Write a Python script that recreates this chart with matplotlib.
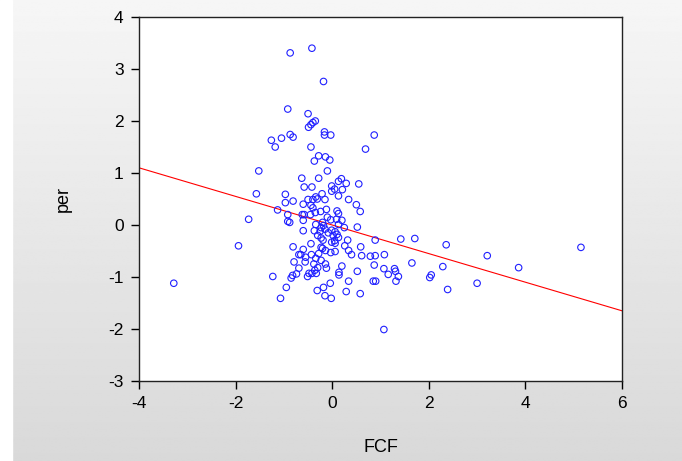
import numpy as np
import matplotlib.pyplot as plt

plt.rcParams['axes.unicode_minus'] = False
plt.rcParams['font.family'] = ['Liberation Sans', 'DejaVu Sans']

# scatter values
fcf = [-0.87, -0.42, -0.18, -0.92, -0.50, -0.44, -0.40, -0.35, -0.49, -0.16,
       -0.16, -0.03, 0.87, -0.87, -0.81, -1.05, -1.26, -1.18, -0.44, 0.69,
       -0.28, -0.14, -0.05, -0.37, -0.10, -1.52, -0.63, -0.28, 0.19, 0.13,
       0.29, 0.55, -0.58, -0.42, -0.01, 0.05, 0.21, -0.01, -1.57, -0.97,
       -0.21, 0.13, -0.34, -0.40, -0.50, -0.15, 0.34, -0.81, -0.97, -0.31,
       -0.60, 0.50, -0.44, -0.40, -0.24, -0.35, 0.10, 0.58, 0.13, -1.13,
       -0.58, -0.62, -0.92, -1.73, -0.92, -0.88, -0.60, -0.03, 0.09, 0.20,
       -0.34, -0.18, 0.13, 0.52, -0.23, -0.15, -0.60, -0.37, -0.25, -0.01,
       0.06, -0.23, 0.13, 0.89, 0.32, 1.42, 1.71, -0.01, -0.19, -0.44,
       0.06, 2.36, -1.94, -0.81, -0.23, 0.26, 0.59, 5.15, -0.60, -0.14,
       0.34, 0.06, -0.03, -0.65, -0.43, -0.69, 0.40, 0.61, 0.79, 0.89,
       1.08, 3.21, -0.34, -0.56, -0.79, -0.23, -0.14, 1.65, 0.20, 0.87,
       -0.30, -0.12, -0.69, 2.29, 3.86, 1.07, 1.29, 1.31, 0.52, 0.14,
       -0.36, -0.42, -0.33, -0.48, -0.82, -0.74, 0.14, 1.16, 1.37, 2.05,
       2.02, -1.23, -0.51, -0.85, 0.34, 0.85, 0.90, 1.32, -0.04, 3.00,
       -3.28, -0.95, -0.18, -0.31, 0.29, 0.58, 2.39, -1.07, -0.15, -0.02,
       1.07, -0.20, -0.08, 0.02, -0.30, -0.10, 0.10, -0.45, -0.55, -0.28,
       0.05, -0.12, 0.25, -0.38, -0.20]
per = [3.31, 3.40, 2.76, 2.23, 2.14, 1.93, 1.97, 2.00, 1.88, 1.79,
       1.73, 1.73, 1.73, 1.74, 1.69, 1.67, 1.63, 1.50, 1.50, 1.46,
       1.33, 1.31, 1.25, 1.23, 1.04, 1.04, 0.90, 0.90, 0.89, 0.84,
       0.80, 0.79, 0.73, 0.73, 0.75, 0.69, 0.68, 0.65, 0.60, 0.59,
       0.60, 0.56, 0.54, 0.49, 0.49, 0.49, 0.49, 0.46, 0.43, 0.50,
       0.40, 0.39, 0.38, 0.33, 0.26, 0.24, 0.27, 0.26, 0.22, 0.29,
       0.20, 0.20, 0.20, 0.11, 0.07, 0.05, 0.09, 0.10, 0.11, 0.09,
       0.01, -0.01, 0.01, -0.04, -0.05, -0.08, -0.11, -0.11, -0.12, -0.10,
       -0.13, -0.25, -0.24, -0.29, -0.29, -0.27, -0.26, -0.33, -0.29, -0.36,
       -0.35, -0.38, -0.40, -0.42, -0.43, -0.40, -0.42, -0.43, -0.47, -0.49,
       -0.49, -0.51, -0.53, -0.57, -0.57, -0.57, -0.57, -0.59, -0.60, -0.59,
       -0.57, -0.59, -0.64, -0.71, -0.71, -0.68, -0.75, -0.73, -0.79, -0.77,
       -0.82, -0.83, -0.83, -0.80, -0.82, -0.84, -0.84, -0.89, -0.89, -0.91,
       -0.87, -0.93, -0.93, -0.93, -0.97, -0.94, -0.96, -0.95, -0.99, -0.96,
       -1.01, -0.99, -0.99, -1.02, -1.08, -1.08, -1.08, -1.08, -1.12, -1.12,
       -1.12, -1.20, -1.20, -1.26, -1.28, -1.32, -1.24, -1.41, -1.36, -1.41,
       -2.01, 0.05, -0.15, -0.20, -0.20, 0.15, -0.18, 0.20, -0.62, -0.55,
       -0.30, 0.30, -0.05, -0.75, -0.45]

# fitted line, ends
line_x = [-4, 6]
line_y = [1.10, -1.65]

fig = plt.figure(figsize=(6.82, 4.61), dpi=100)

# grey gradient background with white strip on the left
bg = fig.add_axes([0, 0, 1, 1], zorder=-10)
grad = np.linspace(0.965, 0.85, 256).reshape(-1, 1)
bg.imshow(np.repeat(grad, 2, axis=1), cmap='gray', vmin=0, vmax=1,
          aspect='auto', extent=[0, 1, 0, 1])
bg.axvspan(0, 12 / 682, color='white')
bg.set_xlim(0, 1)
bg.set_ylim(0, 1)
bg.axis('off')

ax = fig.add_axes([139 / 682, 1 - 381 / 461, 483 / 682, 364 / 461])
ax.set_facecolor('white')
ax.scatter(fcf, per, s=22, facecolors='none', edgecolors='#2020ff',
           linewidths=0.8, zorder=3)
ax.plot(line_x, line_y, color='red', linewidth=0.8, zorder=2)

ax.set_xlim(-4, 6)
ax.set_ylim(-3, 4)
ax.set_xticks([-4, -2, 0, 2, 4, 6])
ax.set_yticks([-3, -2, -1, 0, 1, 2, 3, 4])
ax.tick_params(direction='out', length=6, width=1, labelsize=12.5,
               pad=5, top=False, right=False)
for s in ax.spines.values():
    s.set_linewidth(1)
    s.set_color('#222222')
ax.set_xlabel('FCF', fontsize=13, labelpad=20)
ax.set_ylabel('per', fontsize=13, labelpad=26)

fig.savefig('out.png', dpi=100)
